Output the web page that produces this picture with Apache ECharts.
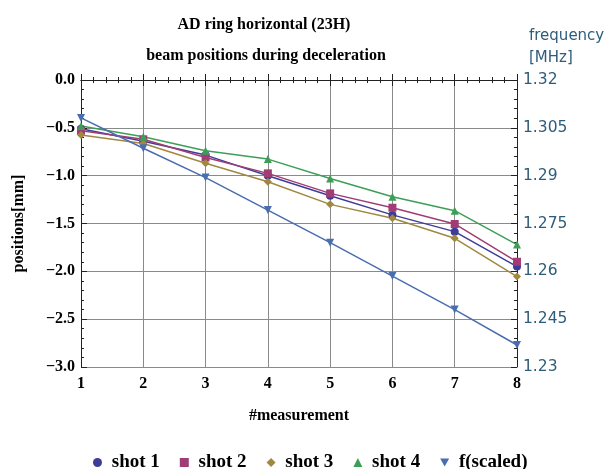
<!DOCTYPE html>
<html>
<head>
<meta charset="utf-8">
<script src="https://cdn.jsdelivr.net/npm/echarts@6/dist/echarts.min.js"></script>
<style>html,body{margin:0;padding:0;background:#fff}#c{width:605px;height:469px}</style>
</head>
<body>
<div id="c"></div>
<script>
var measurements = [1, 2, 3, 4, 5, 6, 7, 8];
var shot1 = [-0.51, -0.64, -0.785, -1.0, -1.21, -1.41, -1.585, -1.95];
var shot2 = [-0.53, -0.62, -0.81, -0.976, -1.185, -1.335, -1.505, -1.90];
var shot3 = [-0.576, -0.663, -0.87, -1.063, -1.30, -1.446, -1.655, -2.055];
var shot4 = [-0.48, -0.594, -0.74, -0.827, -1.03, -1.22, -1.366, -1.72];
var fScaled = [1.3081, 1.2986, 1.2894, 1.2792, 1.269, 1.2585, 1.248, 1.2369];
var leftTicks = [0, -0.5, -1.0, -1.5, -2.0, -2.5, -3.0];
var rightTicks = [1.23, 1.245, 1.26, 1.275, 1.29, 1.305, 1.32];

function pairs(ys) { return measurements.map(function (x, i) { return [x, ys[i]]; }); }

var serif = '"Liberation Serif", "DejaVu Serif", serif';
var sans = '"DejaVu Sans", sans-serif';
var tealText = '#2e5d7c';
var gridCol = '#8a8a8a';

var chart = echarts.init(document.getElementById('c'), null, { renderer: 'canvas' });
function mk(name, data, color, symbol, yIdx) {
  return {
    name: name, type: 'line', data: data, yAxisIndex: yIdx || 0,
    symbol: symbol, symbolSize: 8, showSymbol: true,
    lineStyle: { color: color, width: 1.5 },
    itemStyle: { color: color },
    emphasis: { disabled: true },
    animation: false
  };
}
var downTri = 'path://M0,0 L10,0 L5,9 Z';
chart.setOption({
  animation: false,
  title: [
    { text: 'AD ring horizontal (23H)', left: 259, textAlign: 'center', top: 12,
      textStyle: { fontFamily: serif, fontWeight: 'bold', fontSize: 16, color: '#000' } },
    { text: 'beam positions during deceleration', left: 261, textAlign: 'center', top: 43,
      textStyle: { fontFamily: serif, fontWeight: 'bold', fontSize: 16, color: '#000' } },
    { text: 'frequency\n[MHz]', left: 524, top: 20,
      textStyle: { fontFamily: sans, fontWeight: 'normal', fontSize: 15, color: tealText, lineHeight: 22 } }
  ],
  legend: {
    top: 448, left: 88, itemGap: 20, itemWidth: 9, itemHeight: 9,
    formatter: function (n) { return ' ' + n; },
    textStyle: { fontFamily: serif, fontWeight: 'bold', fontSize: 19, color: '#000' },
    data: [
      { name: 'shot 1', icon: 'circle' },
      { name: 'shot 2', icon: 'rect' },
      { name: 'shot 3', icon: 'diamond' },
      { name: 'shot 4', icon: 'triangle' },
      { name: 'f(scaled)', icon: downTri }
    ]
  },
  grid: { left: 81, right: 88, top: 80, bottom: 102 },
  xAxis: [
    { type: 'value', min: 1, max: 8, interval: 1, position: 'bottom',
      name: '#measurement', nameLocation: 'middle', nameGap: 41,
      nameTextStyle: { fontFamily: serif, fontWeight: 'bold', fontSize: 16, color: '#000' },
      axisLine: { lineStyle: { color: '#222', width: 1 } },
      axisTick: { inside: true, length: 6, lineStyle: { color: '#222' } },
      minorTick: { show: true, splitNumber: 5, length: 3, lineStyle: { color: '#222' } },
      axisLabel: { fontFamily: serif, fontWeight: 'bold', fontSize: 16, color: '#000', margin: 9 },
      splitLine: { show: true, lineStyle: { color: gridCol, width: 1 } } },
    { type: 'value', min: 1, max: 8, interval: 1, position: 'top',
      axisLine: { lineStyle: { color: '#222', width: 1 } },
      axisTick: { inside: true, length: 6, lineStyle: { color: '#222' } },
      minorTick: { show: true, splitNumber: 5, length: 3, lineStyle: { color: '#222' } },
      axisLabel: { show: false }, splitLine: { show: false } }
  ],
  yAxis: [
    { type: 'value', min: -3, max: 0, interval: 0.5, position: 'left',
      name: 'positions[mm]', nameLocation: 'middle', nameGap: 54, nameRotate: 90,
      nameTextStyle: { fontFamily: serif, fontWeight: 'bold', fontSize: 16, color: '#000' },
      axisLine: { show: true, lineStyle: { color: '#222', width: 1 } },
      axisTick: { show: true, inside: true, length: 6, lineStyle: { color: '#222' } },
      minorTick: { show: true, splitNumber: 5, length: 3, lineStyle: { color: '#222' } },
      axisLabel: { fontFamily: serif, fontWeight: 'bold', fontSize: 16, color: '#000', margin: 6,
        formatter: function (v) { var s = Math.abs(v).toFixed(1); return v < 0 ? '\u2212' + s : s; } },
      splitLine: { show: true, lineStyle: { color: gridCol, width: 1 } } },
    { type: 'value', min: 1.23, max: 1.32, interval: 0.015, position: 'right',
      axisLine: { show: true, lineStyle: { color: '#222', width: 1 } },
      axisTick: { show: true, inside: true, length: 6, lineStyle: { color: '#222' } },
      minorTick: { show: true, splitNumber: 5, length: 3, lineStyle: { color: '#222' } },
      axisLabel: { fontFamily: sans, fontSize: 15.5, color: tealText, margin: 6,
        formatter: function (v) { return String(+v.toFixed(3)); } },
      splitLine: { show: false } }
  ],
  series: [
    mk('shot 1', pairs(shot1), '#3d3d99', 'circle'),
    mk('shot 2', pairs(shot2), '#a03d75', 'rect'),
    mk('shot 3', pairs(shot3), '#a08840', 'diamond'),
    mk('shot 4', pairs(shot4), '#3d9f57', 'triangle'),
    mk('f(scaled)', pairs(fScaled), '#4a6db0', downTri, 1)
  ]
});
</script>
</body>
</html>
